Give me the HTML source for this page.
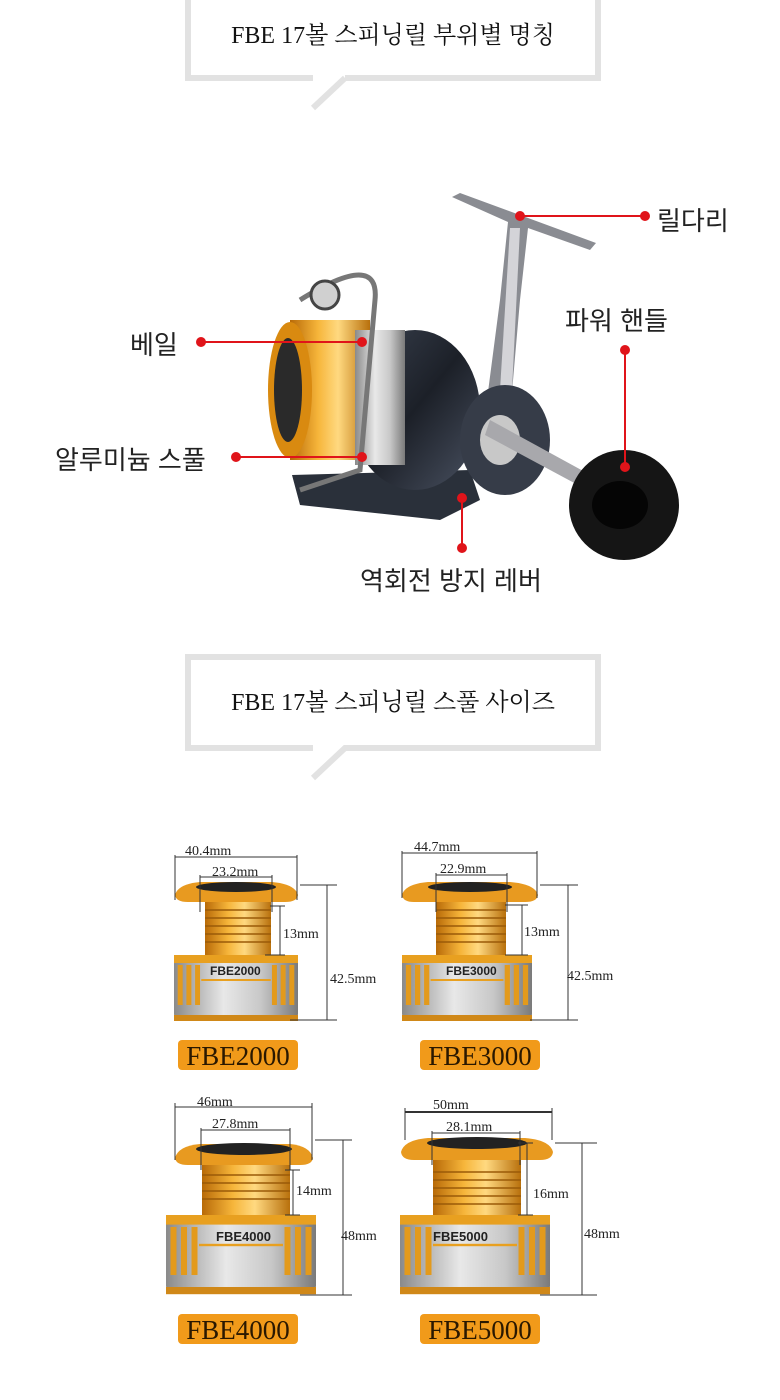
<!DOCTYPE html>
<html><head><meta charset="utf-8"><style>
html,body{margin:0;padding:0;background:#fff;}
svg{display:block;}
.t{font-family:"Liberation Serif","Noto Serif CJK SC",serif;}
.k{font-family:"Liberation Sans","Noto Sans CJK KR",sans-serif;}
</style></head><body>
<svg width="780" height="1400" viewBox="0 0 780 1400" xmlns="http://www.w3.org/2000/svg">
<defs>
<linearGradient id="gold" x1="0" x2="1" y1="0" y2="0">
<stop offset="0" stop-color="#b86a08"/><stop offset="0.35" stop-color="#f6b53a"/><stop offset="0.6" stop-color="#ffd980"/><stop offset="1" stop-color="#b8700c"/></linearGradient>
<linearGradient id="silver" x1="0" x2="1" y1="0" y2="0">
<stop offset="0" stop-color="#8a8a8a"/><stop offset="0.4" stop-color="#e8e8e8"/><stop offset="0.7" stop-color="#c8c8c8"/><stop offset="1" stop-color="#7a7a7a"/></linearGradient>
<linearGradient id="dark" x1="0" x2="1" y1="0" y2="1">
<stop offset="0" stop-color="#3a4250"/><stop offset="0.5" stop-color="#1c2028"/><stop offset="1" stop-color="#4a5262"/></linearGradient>
<g id="spool">
<!-- base -->
<rect x="0" y="0" width="100" height="65" rx="6" fill="url(#silver)"/>
<rect x="0" y="0" width="100" height="8" fill="#e8a020"/>
<rect x="0" y="60" width="100" height="6" fill="#d08818"/>
<g fill="#e39a1c">
<rect x="3" y="10" width="4" height="40"/><rect x="10" y="10" width="4" height="40"/><rect x="17" y="10" width="4" height="40"/>
<rect x="79" y="10" width="4" height="40"/><rect x="86" y="10" width="4" height="40"/><rect x="93" y="10" width="4" height="40"/>
</g>
<rect x="22" y="24" width="56" height="2" fill="#e8a020"/>
</g>
</defs>

<!-- bubble 1 -->
<path d="M188 -5 V78 H313" fill="none" stroke="#e2e2e2" stroke-width="6"/>
<path d="M345 78 H598 V-5" fill="none" stroke="#e2e2e2" stroke-width="6"/>
<path d="M345 78 L313 108" fill="none" stroke="#e2e2e2" stroke-width="6"/>
<text x="393" y="43" text-anchor="middle" class="t" font-size="24" fill="#111">FBE 17볼 스피닝릴 부위별 명칭</text>

<!-- bubble 2 -->
<path d="M313 748 H188 V657 H598 V748 H345 L313 778" fill="none" stroke="#e2e2e2" stroke-width="6"/>
<text x="393" y="710" text-anchor="middle" class="t" font-size="24" fill="#111">FBE 17볼 스피닝릴 스풀 사이즈</text>

<!-- reel -->
<g>
<!-- stem -->
<path d="M452 197 L460 193 L596 243 L590 250 L528 228 L520 300 L512 392 L488 392 L500 300 L508 222 Z" fill="#8a8c92"/>
<path d="M510 228 L520 228 L512 390 L500 390 Z" fill="#d4d4d8"/>
<!-- base -->
<path d="M292 475 L470 470 L480 500 L440 520 L300 505 Z" fill="#2a303a"/>
<!-- body -->
<ellipse cx="415" cy="410" rx="65" ry="80" fill="url(#dark)"/>
<ellipse cx="505" cy="440" rx="45" ry="55" fill="#363c48"/>
<ellipse cx="500" cy="440" rx="20" ry="25" fill="#c8c8c8"/>
<!-- handle arm -->
<path d="M490 420 L585 472 L578 485 L485 435 Z" fill="#a8a8ac"/>
<!-- spool in reel -->
<rect x="290" y="320" width="80" height="140" fill="url(#gold)"/>
<ellipse cx="290" cy="390" rx="22" ry="68" fill="#d98a10"/>
<ellipse cx="288" cy="390" rx="14" ry="52" fill="#2a2a2a"/>
<rect x="355" y="330" width="50" height="135" fill="url(#silver)"/>
<!-- bail arc -->
<path d="M300 300 Q380 250 375 300 L360 470 L300 490" fill="none" stroke="#777" stroke-width="5"/>
<circle cx="325" cy="295" r="14" fill="#d0d0d0" stroke="#444" stroke-width="3"/>
<!-- knob -->
<circle cx="624" cy="505" r="55" fill="#151515"/>
<ellipse cx="620" cy="505" rx="28" ry="24" fill="#050505"/>
</g>
<!-- red callouts -->
<g stroke="#e0141a" stroke-width="2" fill="#e0141a">
<line x1="520" y1="216" x2="645" y2="216"/><circle cx="520" cy="216" r="4"/><circle cx="645" cy="216" r="4"/>
<line x1="201" y1="342" x2="362" y2="342"/><circle cx="201" cy="342" r="4"/><circle cx="362" cy="342" r="4"/>
<line x1="236" y1="457" x2="362" y2="457"/><circle cx="236" cy="457" r="4"/><circle cx="362" cy="457" r="4"/>
<line x1="625" y1="350" x2="625" y2="467"/><circle cx="625" cy="350" r="4"/><circle cx="625" cy="467" r="4"/>
<line x1="462" y1="498" x2="462" y2="548"/><circle cx="462" cy="498" r="4"/><circle cx="462" cy="548" r="4"/>
</g>
<g class="k" font-size="26" fill="#222">
<text x="657" y="230">릴다리</text>
<text x="130" y="354">베일</text>
<text x="565" y="330">파워 핸들</text>
<text x="55" y="469">알루미늄 스풀</text>
<text x="360" y="590">역회전 방지 레버</text>
</g>

<!-- spool 1 -->
<g>
<rect x="205" y="898" width="66" height="58" fill="url(#gold)"/>
<g stroke="#9a5a08" stroke-width="1.5"><line x1="205" y1="910" x2="271" y2="910"/><line x1="205" y1="918" x2="271" y2="918"/><line x1="205" y1="926" x2="271" y2="926"/><line x1="205" y1="934" x2="271" y2="934"/><line x1="205" y1="942" x2="271" y2="942"/></g>
<path d="M175 895 Q178 884 200 882 H272 Q295 884 298 895 Q297 902 285 902 H188 Q176 902 175 895Z" fill="#e89a20"/>
<ellipse cx="236" cy="887" rx="40" ry="5" fill="#222"/>
<use href="#spool" transform="translate(174,955) scale(1.24,1)"/>
<text x="210" y="975" class="k" font-size="12" font-weight="bold" fill="#222">FBE2000</text>
</g>
<g stroke="#333" stroke-width="1" fill="none">
<line x1="175" y1="855" x2="175" y2="900"/><line x1="297" y1="855" x2="297" y2="900"/><line x1="175" y1="857" x2="297" y2="857"/>
<line x1="200" y1="875" x2="200" y2="912"/><line x1="272" y1="875" x2="272" y2="912"/><line x1="200" y1="877" x2="272" y2="877"/>
<line x1="300" y1="885" x2="337" y2="885"/><line x1="327" y1="885" x2="327" y2="1020"/><line x1="290" y1="1020" x2="337" y2="1020"/>
<line x1="270" y1="906" x2="285" y2="906"/><line x1="280" y1="906" x2="280" y2="955"/><line x1="265" y1="955" x2="285" y2="955"/>
</g>
<g class="t" font-size="14" fill="#222">
<text x="185" y="855">40.4mm</text><text x="212" y="876">23.2mm</text>
<text x="283" y="938">13mm</text><text x="330" y="983">42.5mm</text>
</g>
<rect x="178" y="1040" width="120" height="30" rx="4" fill="#f19a1a"/>
<text x="238" y="1065" text-anchor="middle" class="t" font-size="27" fill="#2a1800">FBE2000</text>

<!-- spool 2 -->
<g>
<rect x="436" y="898" width="70" height="58" fill="url(#gold)"/>
<g stroke="#9a5a08" stroke-width="1.5"><line x1="436" y1="910" x2="506" y2="910"/><line x1="436" y1="918" x2="506" y2="918"/><line x1="436" y1="926" x2="506" y2="926"/><line x1="436" y1="934" x2="506" y2="934"/><line x1="436" y1="942" x2="506" y2="942"/></g>
<path d="M402 895 Q405 884 428 882 H510 Q535 884 538 895 Q537 902 525 902 H414 Q403 902 402 895Z" fill="#e89a20"/>
<ellipse cx="470" cy="887" rx="42" ry="5" fill="#222"/>
<use href="#spool" transform="translate(402,955) scale(1.3,1)"/>
<text x="446" y="975" class="k" font-size="12" font-weight="bold" fill="#222">FBE3000</text>
</g>
<g stroke="#333" stroke-width="1" fill="none">
<line x1="402" y1="851" x2="402" y2="898"/><line x1="537" y1="851" x2="537" y2="898"/><line x1="402" y1="853" x2="537" y2="853"/>
<line x1="436" y1="873" x2="436" y2="912"/><line x1="507" y1="873" x2="507" y2="912"/><line x1="436" y1="875" x2="507" y2="875"/>
<line x1="540" y1="885" x2="578" y2="885"/><line x1="568" y1="885" x2="568" y2="1020"/><line x1="530" y1="1020" x2="578" y2="1020"/>
<line x1="505" y1="905" x2="528" y2="905"/><line x1="522" y1="905" x2="522" y2="955"/><line x1="505" y1="955" x2="528" y2="955"/>
</g>
<g class="t" font-size="14" fill="#222">
<text x="414" y="851">44.7mm</text><text x="440" y="873">22.9mm</text>
<text x="524" y="936">13mm</text><text x="567" y="980">42.5mm</text>
</g>
<rect x="420" y="1040" width="120" height="30" rx="4" fill="#f19a1a"/>
<text x="480" y="1065" text-anchor="middle" class="t" font-size="27" fill="#2a1800">FBE3000</text>

<!-- spool 3 -->
<g>
<rect x="202" y="1165" width="88" height="52" fill="url(#gold)"/>
<g stroke="#9a5a08" stroke-width="1.5"><line x1="202" y1="1175" x2="290" y2="1175"/><line x1="202" y1="1183" x2="290" y2="1183"/><line x1="202" y1="1191" x2="290" y2="1191"/><line x1="202" y1="1199" x2="290" y2="1199"/></g>
<path d="M175 1158 Q178 1146 200 1144 H290 Q310 1146 313 1158 Q312 1165 300 1165 H188 Q176 1165 175 1158Z" fill="#e89a20"/>
<ellipse cx="244" cy="1149" rx="48" ry="6" fill="#222"/>
<use href="#spool" transform="translate(166,1215) scale(1.5,1.2)"/>
<text x="216" y="1241" class="k" font-size="13" font-weight="bold" fill="#222">FBE4000</text>
</g>
<g stroke="#333" stroke-width="1" fill="none">
<line x1="175" y1="1103" x2="175" y2="1160"/><line x1="312" y1="1103" x2="312" y2="1160"/><line x1="175" y1="1107" x2="312" y2="1107"/>
<line x1="201" y1="1128" x2="201" y2="1170"/><line x1="290" y1="1128" x2="290" y2="1170"/><line x1="201" y1="1130" x2="290" y2="1130"/>
<line x1="315" y1="1140" x2="352" y2="1140"/><line x1="343" y1="1140" x2="343" y2="1295"/><line x1="300" y1="1295" x2="352" y2="1295"/>
<line x1="285" y1="1170" x2="300" y2="1170"/><line x1="293" y1="1170" x2="293" y2="1215"/><line x1="285" y1="1215" x2="300" y2="1215"/>
</g>
<g class="t" font-size="14" fill="#222">
<text x="197" y="1106">46mm</text><text x="212" y="1128">27.8mm</text>
<text x="296" y="1195">14mm</text><text x="341" y="1240">48mm</text>
</g>
<rect x="178" y="1314" width="120" height="30" rx="4" fill="#f19a1a"/>
<text x="238" y="1339" text-anchor="middle" class="t" font-size="27" fill="#2a1800">FBE4000</text>

<!-- spool 4 -->
<g>
<rect x="433" y="1160" width="88" height="58" fill="url(#gold)"/>
<g stroke="#9a5a08" stroke-width="1.5"><line x1="433" y1="1172" x2="521" y2="1172"/><line x1="433" y1="1180" x2="521" y2="1180"/><line x1="433" y1="1188" x2="521" y2="1188"/><line x1="433" y1="1196" x2="521" y2="1196"/><line x1="433" y1="1204" x2="521" y2="1204"/></g>
<path d="M401 1152 Q404 1140 428 1138 H525 Q550 1140 553 1152 Q552 1160 540 1160 H414 Q402 1160 401 1152Z" fill="#e89a20"/>
<ellipse cx="477" cy="1143" rx="50" ry="6" fill="#222"/>
<use href="#spool" transform="translate(400,1215) scale(1.5,1.2)"/>
<text x="433" y="1241" class="k" font-size="13" font-weight="bold" fill="#222">FBE5000</text>
</g>
<g stroke="#333" stroke-width="1" fill="none">
<line x1="405" y1="1108" x2="405" y2="1140"/><line x1="552" y1="1108" x2="552" y2="1140"/><line x1="405" y1="1112" x2="552" y2="1112" stroke-width="2"/>
<line x1="432" y1="1131" x2="432" y2="1165"/><line x1="520" y1="1131" x2="520" y2="1165"/><line x1="432" y1="1133" x2="520" y2="1133"/>
<line x1="555" y1="1143" x2="597" y2="1143"/><line x1="582" y1="1143" x2="582" y2="1295"/><line x1="540" y1="1295" x2="597" y2="1295"/>
<line x1="518" y1="1143" x2="533" y2="1143"/><line x1="527" y1="1143" x2="527" y2="1215"/><line x1="518" y1="1215" x2="533" y2="1215"/>
</g>
<g class="t" font-size="14" fill="#222">
<text x="433" y="1109">50mm</text><text x="446" y="1131">28.1mm</text>
<text x="533" y="1198">16mm</text><text x="584" y="1238">48mm</text>
</g>
<rect x="420" y="1314" width="120" height="30" rx="4" fill="#f19a1a"/>
<text x="480" y="1339" text-anchor="middle" class="t" font-size="27" fill="#2a1800">FBE5000</text>
</svg>
</body></html>
